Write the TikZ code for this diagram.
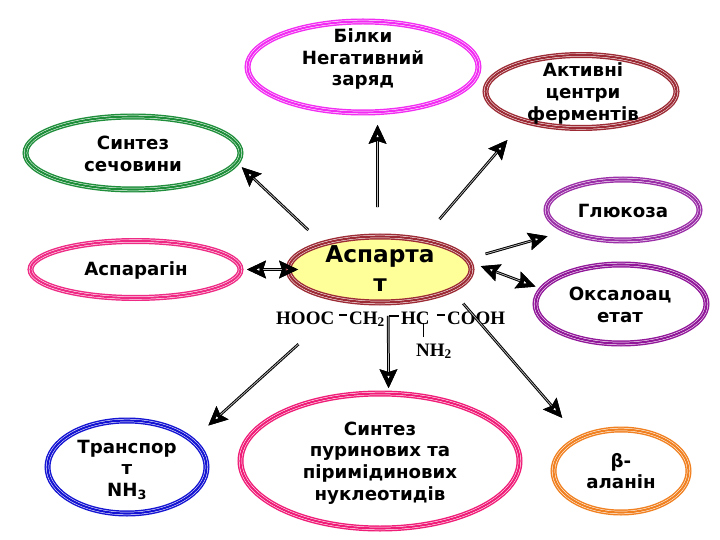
\documentclass[tikz,border=0pt]{standalone}
\usepackage{fontspec}
\setmainfont{DejaVu Sans}
\newfontfamily\chemfont{Liberation Serif}
\usetikzlibrary{arrows.meta,shapes.geometric}
\definecolor{tipblack}{HTML}{000001}
\pgfdeclarearrow{
  name=HollowTip,
  cache=false,
  setup code={
    \pgfarrowssettipend{0pt}
    \pgfarrowssetlineend{-14pt}
    \pgfarrowssetvisualbackend{-16pt}
    \pgfarrowssetbackend{-19pt}
    \pgfarrowshullpoint{0pt}{0pt}
    \pgfarrowshullpoint{-19pt}{9pt}
    \pgfarrowshullpoint{-19pt}{-9pt}
  },
  drawing code={
    \pgfsetfillcolor{tipblack}
    \pgfpathmoveto{\pgfpointorigin}
    \pgfpathlineto{\pgfpoint{-19pt}{9pt}}
    \pgfpathlineto{\pgfpoint{-16pt}{0pt}}
    \pgfpathlineto{\pgfpoint{-19pt}{-9pt}}
    \pgfpathclose
    \pgfpathmoveto{\pgfpoint{-9pt}{0pt}}
    \pgfpathlineto{\pgfpoint{-12.5pt}{-1.6pt}}
    \pgfpathlineto{\pgfpoint{-12.5pt}{1.6pt}}
    \pgfpathclose
    \pgfusepathqfill
  }
}
\definecolor{cMag}{HTML}{F22CF2}
\definecolor{cRed}{HTML}{9C2B35}
\definecolor{cGrn}{HTML}{1E8E3A}
\definecolor{cVio}{HTML}{9B2FA8}
\definecolor{cPnk}{HTML}{EE2A85}
\definecolor{cPur}{HTML}{92189A}
\definecolor{cBlu}{HTML}{1414D2}
\definecolor{cCrm}{HTML}{F01D78}
\definecolor{cOrg}{HTML}{F08020}
\definecolor{cYel}{HTML}{FFFF99}
\tikzset{
  ell/.style={ellipse,inner sep=0pt,outer sep=2.5pt,draw=#1,line width=6pt,
    postaction={draw=white,line width=3.1pt},
    postaction={draw=#1,line width=2.1pt}},
  lab/.style={align=center,inner sep=0pt,font=\fontsize{18.2}{21.7}\selectfont\bfseries},
  arr/.style={-{HollowTip},draw=black,line width=2.7pt,postaction={draw=lightgray,line width=0.7pt}},
  arrb/.style={{HollowTip}-{HollowTip},draw=black,line width=2.7pt,postaction={draw=lightgray,line width=0.7pt}},
  chem/.style={anchor=base west,inner sep=0pt,font=\fontsize{19}{21}\chemfont\bfseries},
  bond/.style={draw=black,line width=1.5pt}
}
\begin{document}
\begin{tikzpicture}[x=1pt,y=-1pt]
\useasboundingbox (0,0) rectangle (720,540);
% ellipses
\node[ell=cMag,minimum width=231pt,minimum height=91pt] (bilky) at (363,67) {};
\node[ell=cRed,minimum width=191pt,minimum height=73pt] (aktyv) at (581,91.5) {};
\node[ell=cGrn,minimum width=215pt,minimum height=73pt] (sech) at (133,153) {};
\node[ell=cVio,minimum width=153pt,minimum height=61pt] (gluk) at (623,210) {};
\node[ell=cPnk,minimum width=210pt,minimum height=57pt] (aspn) at (135.5,269.5) {};
\node[ell=cRed,fill=cYel,minimum width=183pt,minimum height=66pt] (asp) at (380,269.5) {};
\node[ell=cPur,minimum width=171pt,minimum height=79pt] (oks) at (621,304) {};
\node[ell=cBlu,minimum width=159pt,minimum height=93pt] (trans) at (127,467) {};
\node[ell=cCrm,minimum width=279pt,minimum height=135pt] (pur) at (380,461) {};
\node[ell=cOrg,minimum width=135pt,minimum height=83pt] (bala) at (621,471) {};
% labels
\node[lab] (tbilky) at (363,59) {Білки\\Негативний\\заряд};
\node[lab] (taktyv) at (583,93.5) {Активні\\центри\\ферментів};
\node[lab] (tsech) at (133,154) {Синтез\\сечовини};
\node[lab] (tgluk) at (623,211) {Глюкоза};
\node[lab] (taspn) at (136,270) {Аспарагін};
\node[lab,font=\fontsize{23.2}{29}\selectfont\bfseries] (tasp) at (380,269) {Аспарта\\т};
\node[lab] (toks) at (620,305) {Оксалоац\\етат};
\node[lab] (ttrans) at (127,470) {Транспор\\т\\NH\textsubscript{3}};
\node[lab] (tpur) at (380,463) {Синтез\\пуринових та\\піримідинових\\нуклеотидів};
\node[lab] (tbala) at (621,471) {β-\\аланін};
% formula
\node[chem] (hooc) at (276,324) {HOOC};
\node[chem] (ch) at (349,324) {CH\textsubscript{2}};
\node[chem] (hc) at (401,324) {HC};
\node[chem] (cooh) at (447,324) {COOH};
\node[chem] (nh) at (416,356) {NH\textsubscript{2}};
\draw[bond] ([shift={(5pt,9pt)}]hooc.base east) -- ++(8,0);
\draw[bond] ([shift={(4pt,8pt)}]ch.base east) -- ++(10,0);
\draw[bond] ([shift={(7pt,9pt)}]hc.base east) -- ++(8,0);
\draw[line width=1pt] ([shift={(7pt,19pt)}]nh.base west) -- ++(0,-14);
% arrows
\draw[arr,shorten <=27pt,shorten >=10.3pt] (asp.94.9) -- (bilky.-73.6);
\draw[arr,shorten <=24.8pt,shorten >=22.9pt] (asp.36.1) -- (aktyv.-152.2);
\draw[arr,shorten <=17.3pt,shorten >=4.6pt] (asp.155.4) -- (sech.-6.5);
\draw[arr,shorten <=16.7pt,shorten >=16.7pt] (asp.7.4) -- (gluk.-160.2);
\draw[arrb,shorten <=8.9pt,shorten >=4.4pt] (asp.4.5) -- (oks.169.3);
\draw[arrb,shorten <=4pt,shorten >=-12pt] (aspn.0) -- (asp.180);
\draw[arr,shorten <=11pt,shorten >=3pt] (asp.-77.3) -- (pur.83.5);
\draw[arr,shorten <=62.3pt,shorten >=19.6pt] (asp.-137.4) -- (trans.23.5);
\draw[arr,shorten <=15.5pt,shorten >=24.3pt] (asp.-17.7) -- (bala.141);
\end{tikzpicture}
\end{document}
